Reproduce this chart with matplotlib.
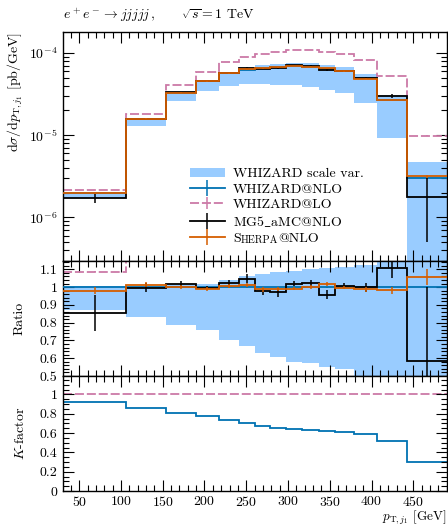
import numpy as np
import matplotlib
matplotlib.use('Agg')
import matplotlib.pyplot as plt
from matplotlib.lines import Line2D
from matplotlib.patches import Patch
from matplotlib.ticker import MultipleLocator, FuncFormatter

plt.rcParams['font.family'] = ['cmr10', 'DejaVu Serif']
plt.rcParams['mathtext.fontset'] = 'cm'
plt.rcParams['axes.formatter.use_mathtext'] = True
plt.rcParams['font.size'] = 10
plt.rcParams['axes.linewidth'] = 1.0

# bin edges of p_T,j1 [GeV]
edges = np.array([31, 106, 154, 190, 217, 241, 261, 279, 298, 317, 337, 356, 379, 407, 442, 490])

# dsigma/dpT [pb/GeV]
whizard_nlo = np.array([2.0e-6, 1.565e-5, 3.29e-5, 4.56e-5, 5.64e-5, 6.28e-5, 6.62e-5, 6.77e-5,
                        7.0e-5, 6.83e-5, 6.42e-5, 6.0e-5, 4.92e-5, 2.7e-5, 3.0e-6])
whizard_nlo_err = np.array([6e-9, 5e-8, 1e-7, 1.4e-7, 1.7e-7, 1.9e-7, 2e-7, 2e-7,
                            2.1e-7, 2e-7, 1.9e-7, 1.8e-7, 1.5e-7, 1e-7, 2e-8])
whizard_lo = np.array([2.172e-6, 1.822e-5, 4.062e-5, 5.907e-5, 7.684e-5, 8.971e-5, 9.793e-5, 1.0336e-4,
                       1.092e-4, 1.0824e-4, 1.0338e-4, 9.836e-5, 8.297e-5, 5.253e-5, 9.9e-6])
whizard_lo_err = np.array([5e-9, 4e-8, 8e-8, 1e-7, 1.2e-7, 1.4e-7, 1.5e-7, 1.5e-7,
                           1.6e-7, 1.6e-7, 1.5e-7, 1.5e-7, 1.3e-7, 1e-7, 3e-8])
scale_lo = np.array([1.748e-6, 1.299e-5, 2.583e-5, 3.452e-5, 3.971e-5, 4.208e-5, 4.184e-5, 4.123e-5,
                     4.067e-5, 3.907e-5, 3.525e-5, 3.24e-5, 2.435e-5, 9.18e-6, 9.0e-8])
scale_hi = np.array([2.01e-6, 1.565e-5, 3.356e-5, 4.651e-5, 5.866e-5, 6.688e-5, 7.117e-5, 7.345e-5,
                     7.63e-5, 7.513e-5, 7.1e-5, 6.69e-5, 5.535e-5, 3.105e-5, 4.74e-6])
mg5 = np.array([1.71e-6, 1.559e-5, 3.353e-5, 4.533e-5, 5.781e-5, 6.575e-5, 6.468e-5, 6.58e-5,
                7.133e-5, 6.987e-5, 6.15e-5, 6.054e-5, 4.92e-5, 2.986e-5, 1.755e-6])
mg5_err = np.array([2.0e-7, 3.9e-7, 4.9e-7, 5.5e-7, 8.5e-7, 1.57e-6, 1.32e-6, 1.69e-6,
                    1.05e-6, 1.02e-6, 1.6e-6, 9e-7, 1.23e-6, 1.49e-6, 1.25e-6])
sherpa = np.array([1.962e-6, 1.585e-5, 3.297e-5, 4.51e-5, 5.685e-5, 6.349e-5, 6.534e-5, 6.709e-5,
                   6.944e-5, 6.844e-5, 6.529e-5, 5.988e-5, 4.856e-5, 2.654e-5, 3.171e-6])
sherpa_err = np.array([4e-8, 2.3e-7, 3.3e-7, 4.6e-7, 5.6e-7, 6.3e-7, 7.9e-7, 6.8e-7,
                       7e-7, 6.8e-7, 6.4e-7, 6e-7, 5.9e-7, 5.4e-7, 1.35e-7])

c_band = '#99ccff'
c_nlo = '#0072b2'
c_lo = '#cc79a7'
c_mg5 = 'black'
c_sherpa = '#d55e00'
lo_dash = (0, (5, 1.6))

centers = 0.5 * (edges[:-1] + edges[1:])
widths = np.diff(edges)

fig = plt.figure(figsize=(4.48, 5.27), dpi=100)
L, W = 0.1413, 0.8558
ax1 = fig.add_axes([L, 0.50569, W, 0.93928 - 0.50569])
ax2 = fig.add_axes([L, 0.28653, W, 0.50569 - 0.28653], sharex=ax1)
ax3 = fig.add_axes([L, 0.06831, W, 0.28653 - 0.06831], sharex=ax1)


def draw(ax, norm):
    ax.bar(edges[:-1], (scale_hi - scale_lo) / norm, bottom=scale_lo / norm, width=widths,
           align='edge', color=c_band, lw=0, zorder=1)
    series = [(whizard_lo, whizard_lo_err, c_lo, lo_dash),
              (whizard_nlo, whizard_nlo_err, c_nlo, '-'),
              (mg5, mg5_err, c_mg5, '-'),
              (sherpa, sherpa_err, c_sherpa, '-')]
    for i, (v, e, c, ls) in enumerate(series):
        ax.stairs(v / norm, edges, baseline=None, color=c, ls=ls, lw=1.3, zorder=2 + i)
        ax.errorbar(centers, v / norm, yerr=e / norm, fmt='none', ecolor=c, elinewidth=1.1, zorder=2 + i)


draw(ax1, 1.0)
draw(ax2, whizard_nlo)

# K-factor
ax3.stairs(whizard_lo / whizard_lo, edges, baseline=None, color=c_lo, ls=lo_dash, lw=1.3)
ax3.stairs(whizard_nlo / whizard_lo, edges, baseline=None, color=c_nlo, lw=1.3)

ax1.set_yscale('log')
ax1.set_ylim(3e-7, 1.8e-4)
ax2.set_ylim(0.5, 1.15)
ax3.set_ylim(0, 1.19)
ax1.set_xlim(edges[0], edges[-1])

fmt = FuncFormatter(lambda v, p: '%g' % round(v, 3))
ax2.yaxis.set_major_locator(MultipleLocator(0.1))
ax2.yaxis.set_minor_locator(MultipleLocator(0.02))
ax2.yaxis.set_major_formatter(fmt)
ax3.yaxis.set_major_locator(MultipleLocator(0.2))
ax3.yaxis.set_minor_locator(MultipleLocator(0.05))
ax3.yaxis.set_major_formatter(fmt)
ax3.xaxis.set_major_locator(MultipleLocator(50))
ax3.xaxis.set_minor_locator(MultipleLocator(10))

for ax in (ax1, ax2, ax3):
    ax.tick_params(which='both', direction='in', top=True, right=True, width=0.8)
    ax.tick_params(which='major', length=8, pad=4)
    ax.tick_params(which='minor', length=4)
for ax in (ax1, ax2):
    ax.tick_params(labelbottom=False)
ax3.tick_params(axis='x', pad=3)

# labels
fig.text(0.1413, 1 - 15 / 527, r'$e^+e^- \rightarrow jjjjj\,,\qquad \sqrt{s} = 1$ TeV',
         ha='left', va='center')
fig.text(15 / 448, 0.93928, r'$\mathrm{d}\sigma/\mathrm{d}p_{\mathrm{T},j_1}$ [pb/GeV]',
         rotation=90, ha='center', va='top')
fig.text(20 / 448, 1 - 318 / 527, 'Ratio', rotation=90, ha='center', va='center')
fig.text(20 / 448, 1 - 433 / 527, r'$K$-factor', rotation=90, ha='center', va='center')
fig.text(0.997, 0.0, r'$p_{\mathrm{T},j_1}$ [GeV]', ha='right', va='bottom', fontsize=9.5)

handles = [Patch(color=c_band, lw=0),
           Line2D([], [], color=c_nlo, lw=1.3, marker='|', ms=11, mew=1.1),
           Line2D([], [], color=c_lo, lw=1.3, ls=lo_dash, marker='|', ms=8, mew=1.1),
           Line2D([], [], color=c_mg5, lw=1.3, marker='|', ms=11, mew=1.1),
           Line2D([], [], color=c_sherpa, lw=1.3, marker='|', ms=11, mew=1.1)]
labels = ['WHIZARD scale var.', 'WHIZARD@NLO', 'WHIZARD@LO', r'MG5$\_$aMC@NLO', 'S']
leg = ax1.legend(handles, labels, loc='lower left', bbox_to_anchor=(0.33, 0.07),
                 frameon=False, borderpad=0, borderaxespad=0, handlelength=2.5,
                 handletextpad=0.6, labelspacing=0.2, numpoints=1)
t = leg.get_texts()[4]
a1 = ax1.annotate('HERPA', xy=(1, 0), xycoords=t, fontsize=7.5, va='bottom', ha='left', zorder=10)
a2 = ax1.annotate('@NLO', xy=(1, 0), xycoords=a1, fontsize=10, va='bottom', ha='left', zorder=11)

fig.canvas.draw()
fig.savefig('out.png', dpi=100)
